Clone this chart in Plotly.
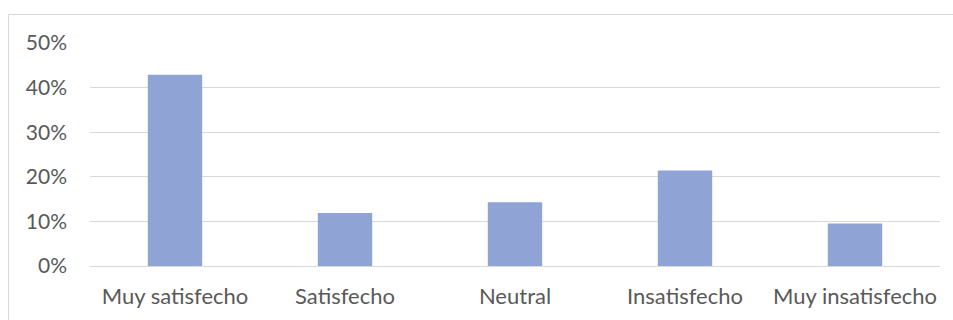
import plotly.graph_objects as go

# Survey satisfaction distribution (share of respondents)
categories = ["Muy satisfecho", "Satisfecho", "Neutral", "Insatisfecho", "Muy insatisfecho"]
shares = [0.4286, 0.1190, 0.1429, 0.2143, 0.0952]
tick_values = [0, 0.1, 0.2, 0.3, 0.4, 0.5]

W, H = 953, 320
L, R, T, B = 90, 13, 43, 54
plot_w = W - L - R
plot_h = H - T - B

def px_to_paper_x(px):
    return (px - L) / plot_w

def px_to_paper_y(py):
    return (H - B - py) / plot_h

fig = go.Figure(
    go.Bar(
        x=categories,
        y=shares,
        marker=dict(color="#8FA3D5", line=dict(width=0)),
        hoverinfo="skip",
    )
)

fig.update_layout(
    width=W,
    height=H,
    margin=dict(l=L, r=R, t=T, b=B),
    paper_bgcolor="white",
    plot_bgcolor="white",
    bargap=0.68,
    showlegend=False,
    font=dict(family="Lato, 'Open Sans', sans-serif", size=21, color="#595959"),
    xaxis=dict(
        showgrid=False,
        showline=True,
        linecolor="#d9d9d9",
        linewidth=1,
        ticks="",
        tickfont=dict(size=22, color="#595959"),
        ticklabelstandoff=11,
    ),
    yaxis=dict(
        range=[0, 0.5],
        tickvals=tick_values,
        tickformat=".0%",
        showgrid=True,
        gridcolor="#d9d9d9",
        gridwidth=1,
        zeroline=False,
        showline=False,
        ticks="",
        ticklabelstandoff=22,
        tickfont=dict(size=21, color="#595959"),
    ),
    shapes=[
        dict(
            type="rect",
            xref="paper",
            yref="paper",
            x0=px_to_paper_x(8.5),
            x1=px_to_paper_x(962),
            y0=px_to_paper_y(330),
            y1=px_to_paper_y(14.5),
            line=dict(color="#d9d9d9", width=1),
            fillcolor="rgba(0,0,0,0)",
            layer="below",
        )
    ],
)

fig.write_html("out.html")
